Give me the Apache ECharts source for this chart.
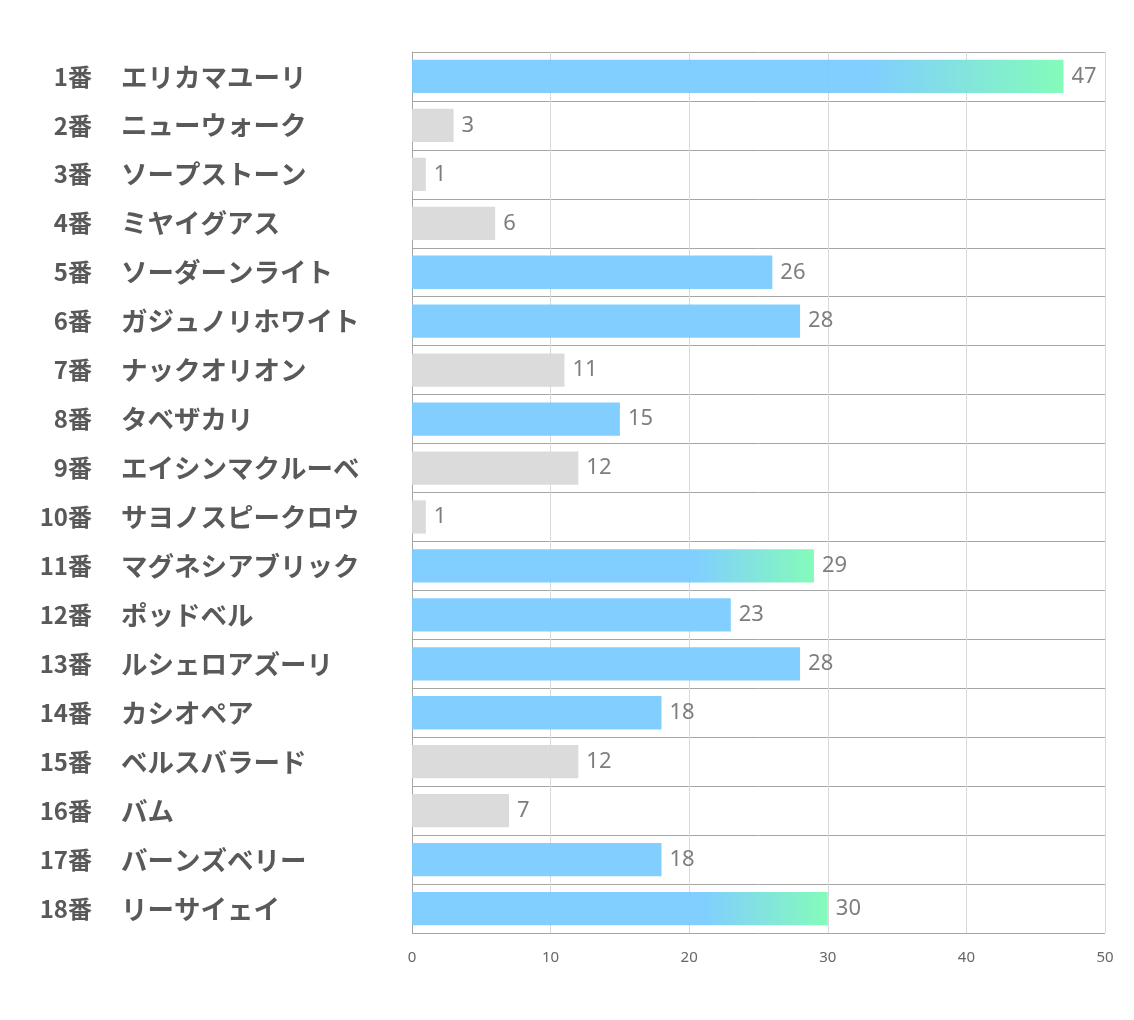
<!DOCTYPE html>
<html><head><meta charset="utf-8">
<script src="https://cdn.jsdelivr.net/npm/echarts@6/dist/echarts.min.js"></script>
<style>html,body{margin:0;padding:0;background:#fff}#c{width:1134px;height:1020px}</style>
</head><body><div id="c"></div>
<script>
const numbers = ['1番','2番','3番','4番','5番','6番','7番','8番','9番','10番','11番','12番','13番','14番','15番','16番','17番','18番'];
const names = ['エリカマユーリ','ニューウォーク','ソープストーン','ミヤイグアス','ソーダーンライト','ガジュノリホワイト','ナックオリオン','タベザカリ','エイシンマクルーベ','サヨノスピークロウ','マグネシアブリック','ポッドベル','ルシェロアズーリ','カシオペア','ベルスバラード','バム','バーンズベリー','リーサイェイ'];
const values = [47,3,1,6,26,28,11,15,12,1,29,23,28,18,12,7,18,30];
const kinds = ['grad','gray','gray','gray','blue','blue','gray','blue','gray','gray','grad','blue','blue','blue','gray','gray','blue','grad'];
const xTicks = {min:0, max:50, interval:10};

const BLUE = '#7acbff', GREEN = '#7dfbb6', GRAY = '#d9d9d9';
function colorFor(k){
  if (k === 'gray') return GRAY;
  if (k === 'blue') return BLUE;
  return new echarts.graphic.LinearGradient(0,0,1,0,[
    {offset:0,color:BLUE},{offset:0.7,color:BLUE},{offset:1,color:GREEN}]);
}
const chart = echarts.init(document.getElementById('c'));
chart.setOption({
  animation:false,
  grid:{left:412,right:29,top:52,bottom:87},
  xAxis:{type:'value',min:xTicks.min,max:xTicks.max,interval:xTicks.interval,
    axisLine:{show:false},axisTick:{show:false},
    splitLine:{show:true,lineStyle:{color:'#d9d9d9',width:1}},
    axisLabel:{color:'#666',fontSize:15,margin:17,fontFamily:'Noto Sans'}},
  yAxis:[{type:'category',inverse:true,data:names,position:'left',
    axisLine:{show:true,lineStyle:{color:'#a6a6a6'}},axisTick:{show:false},
    splitLine:{show:true,lineStyle:{color:'#a6a6a6',width:1}},
    axisLabel:{align:'left',margin:291,fontSize:26.5,fontWeight:'bold',color:'#595959',fontFamily:'Noto Sans CJK JP'}},
   {type:'category',inverse:true,data:numbers,position:'left',offset:0,
    axisLine:{show:false},axisTick:{show:false},splitLine:{show:false},
    axisLabel:{align:'right',margin:320,fontSize:24,fontWeight:'bold',color:'#595959',fontFamily:'Noto Sans CJK JP'}}],
  series:[{type:'bar',barCategoryGap:'32%',yAxisIndex:0,
    data:values.map((v,i)=>({value:v,itemStyle:{color:colorFor(kinds[i]),opacity:0.95}})),
    label:{show:true,position:'right',distance:8,color:'#777',fontSize:22,fontFamily:'Noto Sans'}}]
});
</script></body></html>
